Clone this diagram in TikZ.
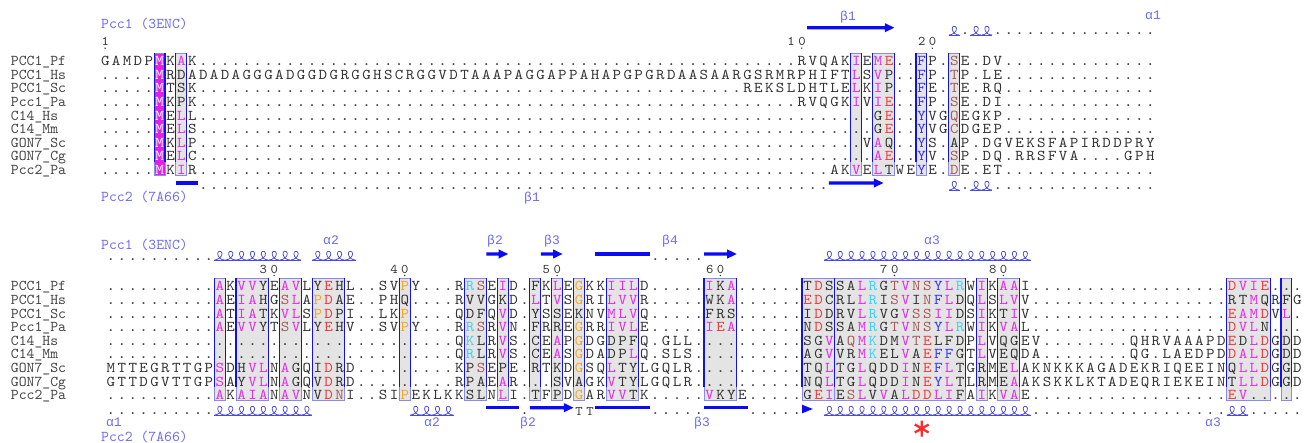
\documentclass[tikz,border=0pt]{standalone}
\usepackage{fontspec}
\usepackage{graphicx}
\newfontfamily\grkfont{Liberation Mono}
\definecolor{seqtxt}{HTML}{333333}
\definecolor{seqnam}{HTML}{444444}
\definecolor{seqmag}{HTML}{E52BE5}
\definecolor{seqred}{HTML}{EE3B3B}
\definecolor{seqblu}{HTML}{3535F5}
\definecolor{seqbrn}{HTML}{A65A5A}
\definecolor{seqorg}{HTML}{F5A623}
\definecolor{seqcyn}{HTML}{3FD0F5}
\definecolor{seqwht}{HTML}{FFFFFF}
\definecolor{boxfill}{HTML}{E4E4E4}
\definecolor{magfill}{HTML}{E520E5}
\definecolor{boxblue}{HTML}{1010F0}
\definecolor{boxlav}{HTML}{8A8AEE}
\definecolor{ssblue}{HTML}{0A0AF5}
\definecolor{hxblue}{HTML}{4A4AE0}
\definecolor{lblblue}{HTML}{6C6CF5}
\definecolor{astred}{HTML}{FF2A2A}

\ExplSyntaxOn
\cs_new:Npn \dotz #1 { \prg_replicate:nn {#1} {.} }
\ExplSyntaxOff

\newlength\seqpitch
\setlength\seqpitch{10.885pt}
\def\colpitch{10.885}
\def\rowh{13.62}
\def\xTop{105.1}
\def\xBot{110.8}
\def\seqscale{1.5}
\def\seqscalex{1.62}

\makeatletter
\newcommand\seqrow[1]{\edef\seq@tmp{#1}\def\seq@col{seqtxt}\expandafter\seq@loop\seq@tmp\relax}
\def\seq@loop#1{\ifx\relax#1\expandafter\@gobble\else\expandafter\@firstofone\fi{\seq@handle{#1}\seq@loop}}
\def\seq@handle#1{%
  \ifcsname seq@c@#1\endcsname
    \edef\seq@col{\csname seq@c@#1\endcsname}%
  \else
    \if-#1\hspace*{\seqpitch}\else\makebox[\seqpitch][c]{\scalebox{\seqscalex}[\seqscale]{\textcolor{\seq@col}{#1}}}\fi
    \def\seq@col{seqtxt}%
  \fi}
\@namedef{seq@c@m}{seqmag}
\@namedef{seq@c@r}{seqred}
\@namedef{seq@c@b}{seqblu}
\@namedef{seq@c@n}{seqbrn}
\@namedef{seq@c@o}{seqorg}
\@namedef{seq@c@c}{seqcyn}
\@namedef{seq@c@w}{seqwht}
\makeatother

\newcommand\seqline[5]{\node[seqnode] (#1) at ({#2+(#4-1.5)*\colpitch},#3) {\seqrow{#5}};}
\newcommand\rulernum[6]{% name, x0, baseline, startcol, digits, dotcol
  \node[seqnode] (#1) at ({#2+(#4-1.5)*\colpitch},#3) {\def\seqscale{1.32}\def\seqscalex{1.4}\seqrow{#5}};
  \fill[seqtxt] ({#2+(#6-1)*\colpitch},#3+2.2) circle (0.8);}
\newcommand\cbox[5]{%
  \pgfmathsetmacro\bxL{#1+(#3-1.5)*\colpitch}\pgfmathsetmacro\bxR{#1+(#4-0.5)*\colpitch}%
  \fill[#5] (\bxL,#2) rectangle (\bxR,#2+9*\rowh);
  \draw[boxlav, line width=0.9pt] (\bxL,#2) rectangle (\bxR,#2+9*\rowh);
  \draw[boxblue, line width=1.1pt] (\bxL,#2) -- (\bxL,#2+8*\rowh) (\bxR,#2) -- (\bxR,#2+8*\rowh);}
\newcommand\helixrun[4]{%
  \draw[helixline] ({#1+(#3-1.5)*\colpitch},#2) -- ({#1+(#4-0.5)*\colpitch},#2);
  \foreach \cc in {#3,...,#4}{%
    \pgfmathsetmacro\hxc{#1+(\cc-1)*\colpitch}%
    \draw[helixline] (\hxc-5.2,#2) .. controls (\hxc-1.5,#2) and (\hxc+3,#2-3.5) .. (\hxc+2.3,#2-6.8) .. controls (\hxc+1.7,#2-9.6) and (\hxc-2.4,#2-9.4) .. (\hxc-1.9,#2-6) .. controls (\hxc-1.5,#2-2.8) and (\hxc+1,#2) .. (\hxc+5.2,#2);
  }}
\newcommand\sarrow[4]{%
  \pgfmathsetmacro\ssL{#1+(#3-1.5)*\colpitch}\pgfmathsetmacro\ssR{#1+(#4-0.5)*\colpitch}%
  \fill[ssblue] (\ssL,#2-1.65) -- (\ssR-9.5,#2-1.65) -- (\ssR-9.5,#2-4.6) -- (\ssR,#2) -- (\ssR-9.5,#2+4.6) -- (\ssR-9.5,#2+1.65) -- (\ssL,#2+1.65) -- cycle;}
\newcommand\sbar[4]{%
  \pgfmathsetmacro\ssL{#1+(#3-1.5)*\colpitch}\pgfmathsetmacro\ssR{#1+(#4-0.5)*\colpitch}%
  \fill[ssblue] (\ssL,#2-1.65) rectangle (\ssR,#2+1.65);}
\newcommand\shead[4]{%
  \pgfmathsetmacro\ssL{#1+(#3-1.5)*\colpitch}\pgfmathsetmacro\ssR{#1+(#4-0.5)*\colpitch}%
  \fill[ssblue] (\ssL,#2-4.3) -- (\ssR,#2) -- (\ssL,#2+4.3) -- cycle;}
\newcommand\namecol[2]{%
  \foreach \nm [count=\ni] in {PCC1\_Pf,PCC1\_Hs,PCC1\_Sc,Pcc1\_Pa,C14\_Hs,C14\_Mm,GON7\_Sc,GON7\_Cg,Pcc2\_Pa}{%
    \node[namenode] (#1\ni) at (10.7,{#2+(\ni-1)*\rowh}) {\scalebox{1.5}{\nm}};}}

\begin{document}
\begin{tikzpicture}[x=1pt,y=-1pt,
  seqnode/.style={anchor=base west, inner sep=0pt, font=\fontsize{10}{10}\selectfont\ttfamily},
  namenode/.style={anchor=base west, inner sep=0pt, text=seqnam, font=\fontsize{10}{10}\selectfont\ttfamily},
  pdblabel/.style={anchor=base west, inner sep=0pt, text=lblblue, font=\fontsize{10}{10}\selectfont\ttfamily},
  sslabel/.style={anchor=base, inner sep=0pt, text=lblblue, font=\fontsize{13}{13}\selectfont\grkfont},
  helixline/.style={draw=hxblue, line width=0.75pt}]

\fill[white] (0,0) rectangle (1306,443);
\useasboundingbox (0,0) rectangle (1306,443);

% ---------------- top block ----------------
\node[pdblabel] (pdbT1) at (101,28.5) {\scalebox{1.5}{Pcc1 (3ENC)}};
\node[pdblabel] (pdbT2) at (101,202) {\scalebox{1.5}{Pcc2 (7A66)}};
\node[sslabel] (lTb1) at (848,21) {β1};
\node[sslabel] (lTa1) at (1153,19.5) {α1};
\node[sslabel] (lTb1b) at (532,202) {β1};

\rulernum{rT1}{\xTop}{46}{1}{1}{1}
\rulernum{rT10}{\xTop}{46}{64}{10}{65}
\rulernum{rT20}{\xTop}{46}{76}{20}{77}

\sarrow{\xTop}{27.7}{66}{73}
\helixrun{\xTop}{35}{79}{79}
\helixrun{\xTop}{35}{81}{82}
\seqline{dTa1}{\xTop}{35}{80}{.--\dotz{15}}

\cbox{\xTop}{53.3}{6}{6}{magfill}
\cbox{\xTop}{53.3}{8}{8}{boxfill}
\cbox{\xTop}{53.3}{70}{70}{boxfill}
\cbox{\xTop}{53.3}{72}{73}{boxfill}
\cbox{\xTop}{53.3}{76}{76}{boxfill}
\cbox{\xTop}{53.3}{79}{79}{boxfill}

\namecol{nT}{65.6}
\seqline{sT1}{\xTop}{65.6}{1}{GAMDPwMKmAK\dotz{55}RVQAKmIEmMrE..bFP.nSE.DV\dotz{14}}
\seqline{sT2}{\xTop}{79.22}{1}{\dotz{5}wMRDADADAGGGADGGDGRGGHSCRGGVDTAAAPAGGAPPAHAPGPGRDAASAARGSRMRPHIFTmLSmVP..bFP.nTP.LE\dotz{14}}
\seqline{sT3}{\xTop}{92.84}{1}{\dotz{5}wMTSK\dotz{50}REKSLDHTLEmLKmIP..bFE.nTE.RQ\dotz{14}}
\seqline{sT4}{\xTop}{106.46}{1}{\dotz{5}wMKPK\dotz{55}RVQGKmIVmIrE..bFP.nSE.DI\dotz{14}}
\seqline{sT5}{\xTop}{120.08}{1}{\dotz{5}wMEmLL\dotz{62}GrE..bYVGnQEGKP\dotz{14}}
\seqline{sT6}{\xTop}{133.7}{1}{\dotz{5}wMEmLS\dotz{62}GrE..bYVGnCDGEP\dotz{14}}
\seqline{sT7}{\xTop}{147.32}{1}{\dotz{5}wMKmLP\dotz{61}VmAQ..bYS.AP.DGVEKSFAPIRDDPRY}
\seqline{sT8}{\xTop}{160.94}{1}{\dotz{5}wMEmLC\dotz{62}mArE..bYV.nSP.DQ.RRSFVA....GPH}
\seqline{sT9}{\xTop}{174.56}{1}{\dotz{5}wMKmIR\dotz{58}AKmVEmLTWEbYE.nDE.ET\dotz{14}}

\sbar{\xTop}{183}{8}{9}
\seqline{dTb1}{\xTop}{189.5}{10}{\dotz{58}}
\sarrow{\xTop}{183}{68}{72}
\helixrun{\xTop}{190}{79}{79}
\helixrun{\xTop}{190}{81}{82}
\seqline{dTb2}{\xTop}{189.5}{80}{.--\dotz{15}}

% ---------------- bottom block ----------------
\node[pdblabel] (pdbB1) at (101,249.5) {\scalebox{1.5}{Pcc1 (3ENC)}};
\node[pdblabel] (pdbB2) at (101,441) {\scalebox{1.5}{Pcc2 (7A66)}};
\node[sslabel] (lBa2) at (331,244.5) {α2};
\node[sslabel] (lBb2) at (495,244.5) {β2};
\node[sslabel] (lBb3) at (552,244.5) {β3};
\node[sslabel] (lBb4) at (670,244.5) {β4};
\node[sslabel] (lBa3) at (932,244.5) {α3};
\node[sslabel] (lBa1x) at (114,426.5) {α1};
\node[sslabel] (lBa2x) at (432,426.5) {α2};
\node[sslabel] (lBb2x) at (528,426) {β2};
\node[sslabel] (lBb3x) at (702,426) {β3};
\node[sslabel] (lBa3x) at (1213,426.5) {α3};

\seqline{dBa1}{\xBot}{260.5}{1}{\dotz{10}}
\helixrun{\xBot}{260}{11}{18}
\helixrun{\xBot}{260}{20}{23}
\sarrow{\xBot}{254}{36}{37}
\sarrow{\xBot}{254}{41}{42}
\sbar{\xBot}{254}{46}{50}
\seqline{dBa2}{\xBot}{260.5}{51}{\dotz{5}}
\sarrow{\xBot}{254}{56}{58}
\helixrun{\xBot}{260}{67}{85}

\rulernum{rB30}{\xBot}{273.3}{15}{30}{16}
\rulernum{rB40}{\xBot}{273.3}{27}{40}{28}
\rulernum{rB50}{\xBot}{273.3}{41}{50}{42}
\rulernum{rB60}{\xBot}{273.3}{56}{60}{57}
\rulernum{rB70}{\xBot}{273.3}{72}{70}{73}
\rulernum{rB80}{\xBot}{273.3}{82}{80}{83}

\cbox{\xBot}{278.3}{11}{11}{boxfill}
\cbox{\xBot}{278.3}{13}{15}{boxfill}
\cbox{\xBot}{278.3}{17}{18}{boxfill}
\cbox{\xBot}{278.3}{20}{22}{boxfill}
\cbox{\xBot}{278.3}{28}{28}{boxfill}
\cbox{\xBot}{278.3}{34}{35}{boxfill}
\cbox{\xBot}{278.3}{37}{37}{boxfill}
\cbox{\xBot}{278.3}{40}{40}{boxfill}
\cbox{\xBot}{278.3}{42}{42}{boxfill}
\cbox{\xBot}{278.3}{44}{44}{boxfill}
\cbox{\xBot}{278.3}{47}{49}{boxfill}
\cbox{\xBot}{278.3}{56}{58}{boxfill}
\cbox{\xBot}{278.3}{65}{67}{boxfill}
\cbox{\xBot}{278.3}{68}{79}{boxfill}
\cbox{\xBot}{278.3}{81}{81}{boxfill}
\cbox{\xBot}{278.3}{83}{84}{boxfill}
\cbox{\xBot}{278.3}{104}{107}{boxfill}
\cbox{\xBot}{278.3}{109}{109}{boxfill}

\namecol{nB}{290.8}
\seqline{sB1}{\xBot}{290.8}{1}{\dotz{10}mAKmVmVYEmAmVLYrEHL..SVoPY...RcRnSEmID.FKmLEoGKKmImImLD.....mIKmA......TrDSSAmLcRGnTmVnNnSbYmLcRWmIKmAmAI\dotz{18}rDmVmIrE...}
\seqline{sB2}{\xBot}{304.42}{1}{\dotz{10}mAEmImAHGnSmLAoPrDAE..PHQ....RVVGKD.mLTmVSoGRImLmVmVR.....WKmA......rErDCRLmLcRInSmVInNbFmLDQmLSmLmVV\dotz{18}RTmMQRFG}
\seqline{sB3}{\xBot}{318.04}{1}{\dotz{10}mATmImATKmVmLSoPrDPI..LKoP....QDFQmVD.YSSEKNVmMmLmVQ.....FRS......IrDDRVmLcRVGmVnSnSmImIDSmIKTmIV\dotz{18}rEmAmMrDVmL.}
\seqline{sB4}{\xBot}{331.66}{1}{\dotz{10}mAEmVmVYTnSmVLYrEHV..SVoPY...RcRnSRmVN.FRREoGRRmImVmLE.....mIrEmA......NrDSSAmMcRGnTmVnNnSbYmLcRWmIKmVmAL\dotz{18}rDmVmLN...}
\seqline{sB5}{\xBot}{345.28}{1}{\dotz{32}QcKLRmVS.CEmAPoGDGDPFQ.GLL.\dotz{9}SGmVAnQmMcKDMmVnTrELFDPmLVQGEV\dotz{8}QHRVAAAPDrEDmLrDGDD}
\seqline{sB6}{\xBot}{358.9}{1}{\dotz{32}QcRLRmVS.CEmASoGDADPmLQ.SLS.\dotz{9}AGmVVRmMcKELmVArEbFbFGTmLVEQDA\dotz{8}QG.LAEDPDrDmAmLrDGDD}
\seqline{sB7}{\xBot}{372.52}{1}{MTTEGRTTGPmSDHmVmLNmAGQIrDRD\dotz{9}KPnSEPE.RTKDoGSQmLTYLGQLR\dotz{10}TQmLTGmLQDDmINrEbFmLTGRMEmLAKNKKKAGADEKRIQEEINQmLmLrDGGD}
\seqline{sB8}{\xBot}{386.14}{1}{GTTDGVTTGPmSAYmVmLNmAGQVrDRD\dotz{9}RPAEmAR...SVAGKmVTYLGQLR\dotz{10}NQmLTGmLQDDmINrEbYmLTLRMEmAAKSKKLKTADEQRIEKEINTmLmLrDGGD}
\seqline{sB9}{\xBot}{399.76}{1}{\dotz{10}mAKmAmImANmAmVNVrDnNI..SIoPEKLKKSLNmLI.TFPDoGARmVmVTK.....mVKYE.....GrEmIEnSmLVmVAmLrDrDmLmIFAmIKmVmAE\dotz{18}rEmV.....}

\seqline{dBb1}{\xBot}{414}{1}{\dotz{10}}
\helixrun{\xBot}{415}{11}{19}
\helixrun{\xBot}{415}{29}{32}
\sbar{\xBot}{407.7}{36}{38}
\seqline{dBb2}{\xBot}{414}{39}{.}
\sarrow{\xBot}{407.7}{40}{43}
\node[seqnode, text=lblblue] (ttB) at ({\xBot+(44-1.5)*\colpitch},415) {\def\seqscale{1.3}\def\seqscalex{1.4}\color{lblblue}\seqrow{TT}};
\sbar{\xBot}{407.7}{46}{50}
\seqline{dBb3}{\xBot}{414}{51}{\dotz{5}}
\sbar{\xBot}{407.7}{56}{59}
\seqline{dBb4}{\xBot}{414}{60}{\dotz{5}}
\shead{\xBot}{409}{65}{65}
\helixrun{\xBot}{415}{67}{85}
\seqline{dBb5}{\xBot}{414}{86}{\dotz{18}}
\helixrun{\xBot}{415}{104}{105}
\seqline{dBb6}{\xBot}{414}{106}{\dotz{5}}

\draw[astred, line width=2.3pt] (921.7,420.5) -- (921.7,436.5) (914.8,424.5) -- (928.6,432.5) (914.8,432.5) -- (928.6,424.5);
\end{tikzpicture}
\end{document}
